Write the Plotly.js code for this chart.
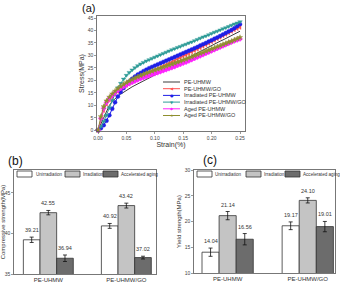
<!DOCTYPE html>
<html><head><meta charset="utf-8">
<script src="https://cdn.plot.ly/plotly-3.0.1.min.js"></script>
<style>html,body{margin:0;padding:0;background:#fff}#chart{width:340px;height:282px}</style>
</head><body><div id="chart"></div>
<script>
// ---- (a) stress-strain data ----
const strain = [0,0.005,0.01,0.015,0.02,0.025,0.03,0.035,0.04,0.045,0.05,0.055,0.06,0.065,0.07,0.075,0.08,0.085,0.09,0.095,0.10,0.105,0.11,0.115,0.12,0.125,0.13,0.135,0.14,0.145,0.15,0.155,0.16,0.165,0.17,0.175,0.18,0.185,0.19,0.195,0.20,0.205,0.21,0.215,0.22,0.225,0.23,0.235,0.24,0.245,0.25];
const stressPE = [0,2.5,5.5,8,10,11.5,12.7,13.7,14.5,15.3,16,16.7,17.4,18,18.6,19.2,19.8,20.4,21,21.5,22.1,22.7,23.2,23.8,24.4,25,25.6,26.2,26.8,27.4,28,28.6,29.2,29.8,30.4,31,31.6,32.2,32.7,33.3,33.9,34.5,35.1,35.7,36.2,36.8,37.4,38,38.5,39.1,39.7];
const stressPEGO = [0,4.5,8,10.5,12.2,13.5,14.6,15.6,16.5,17.3,18.1,18.8,19.5,20.1,20.7,21.3,21.9,22.4,23,23.5,24,24.6,25.1,25.7,26.2,26.8,27.3,27.9,28.5,29.1,29.7,30.2,30.8,31.4,32,32.5,33.1,33.7,34.3,34.9,35.5,36.1,36.7,37.3,37.9,38.5,39.1,39.7,40.3,40.8,41.3];
const stressIrrPE = [0,0.8,2,3.8,6,8.6,11.2,13.5,15.3,16.9,18.3,19.5,20.6,21.5,22.3,23,23.7,24.3,24.9,25.4,25.9,26.4,26.9,27.4,27.9,28.4,28.9,29.4,29.9,30.4,30.9,31.4,31.9,32.4,32.9,33.4,34,34.5,35,35.6,36.1,36.7,37.2,37.8,38.4,39,39.6,40.2,40.9,41.7,42.5];
const stressIrrPEGO = [0,1.5,3.5,6,9,12,14.8,17,18.8,20.5,22,23.2,24.2,25.1,25.9,26.6,27.2,27.8,28.3,28.8,29.3,29.8,30.3,30.8,31.3,31.8,32.3,32.7,33.2,33.6,34.1,34.5,35,35.4,35.9,36.4,36.9,37.4,37.8,38.3,38.8,39.3,39.7,40.2,40.7,41.1,41.6,42.1,42.6,43.0,43.5];
const stressAgedPE = [0,4.8,8.8,11.2,12.8,14,15.1,16,16.8,17.5,18.1,18.7,19.2,19.7,20.2,20.7,21.1,21.5,21.9,22.3,22.7,23.1,23.5,23.9,24.3,24.7,25.1,25.5,26,26.4,26.9,27.3,27.8,28.3,28.8,29.3,29.8,30.3,30.8,31.3,31.8,32.3,32.8,33.3,33.8,34.3,34.8,35.3,35.8,36.2,36.6];
const stressAgedPEGO = [0,5.5,9.5,11.8,13.3,14.6,15.7,16.7,17.6,18.4,19.1,19.7,20.3,20.9,21.4,21.9,22.4,22.9,23.3,23.7,24.1,24.5,24.9,25.3,25.7,26.1,26.5,26.9,27.3,27.7,28.1,28.5,29,29.4,29.9,30.3,30.8,31.2,31.7,32.1,32.6,33,33.5,33.9,34.4,34.8,35.3,35.7,36.2,36.7,37.2];
const curveNames = ['PE-UHMW','PE-UHMW/GO','Irradiated PE-UHMW','Irradiated PE-UHMW/GO','Aged PE-UHMW','Aged PE-UHMW/GO'];

// ---- (b),(c) bar data ----
const materials = ['PE-UHMW','PE-UHMW/GO'];
const barNames = ['Unirradiation','Irradiation','Accelerated aging'];
const compUnirr = [39.21, 40.92];
const compIrr = [42.55, 43.42];
const compAged = [36.94, 37.02];
const compUnirrErr = [0.33, 0.3];
const compIrrErr = [0.27, 0.3];
const compAgedErr = [0.4, 0.17];
const yieldUnirr = [14.04, 19.17];
const yieldIrr = [21.14, 24.10];
const yieldAged = [16.56, 19.01];
const yieldUnirrErr = [0.8, 0.75];
const yieldIrrErr = [0.8, 0.5];
const yieldAgedErr = [1.1, 1.0];

// ---- styling ----
const FONT = 'Liberation Sans, Arial, sans-serif';
const curveStyles = [
  {color:'#3c3c3c', mode:'lines', symbol:null, glyph:''},
  {color:'#ff5050', mode:'lines+markers', symbol:'triangle-left', glyph:'◀'},
  {color:'#1f1fe6', mode:'lines+markers', symbol:'circle', glyph:'●'},
  {color:'#2f9c98', mode:'lines+markers', symbol:'triangle-down', glyph:'▼'},
  {color:'#ff22ff', mode:'lines+markers', symbol:'diamond', glyph:'◆'},
  {color:'#8f8f2e', mode:'lines+markers', symbol:'star', glyph:'★'}
];
const barColors = ['#ffffff','#c4c4c4','#6c6c6c'];
const W = 340, H = 282;
const px = v => v / W, py = v => 1 - v / H;

const curves = [stressPE, stressPEGO, stressIrrPE, stressIrrPEGO, stressAgedPE, stressAgedPEGO];
const traces = [];
curves.forEach((ys, i) => {
  const st = curveStyles[i];
  const tr = {
    type:'scatter', x:strain, y:ys, name:curveNames[i], mode:st.mode,
    xaxis:'x', yaxis:'y', showlegend:false, cliponaxis:false,
    line:{color:st.color, width:1}
  };
  if (st.symbol) tr.marker = {symbol:st.symbol, size:4, color:st.color, line:{width:0.4, color:st.color}};
  traces.push(tr);
});

const bargap = 0.36;
function addBars(vals, errs, xa, ya) {
  vals.forEach((v, j) => {
    traces.push({
      type:'bar', x:materials, y:v, name:barNames[j], xaxis:xa, yaxis:ya, showlegend:false,
      marker:{color:barColors[j], line:{color:'#333', width:0.8}},
      error_y:{type:'data', array:errs[j], visible:true, color:'#111', thickness:0.8, width:2}
    });
  });
}
addBars([compUnirr, compIrr, compAged], [compUnirrErr, compIrrErr, compAgedErr], 'x2', 'y2');
addBars([yieldUnirr, yieldIrr, yieldAged], [yieldUnirrErr, yieldIrrErr, yieldAgedErr], 'x3', 'y3');

const annotations = [];
const shapes = [];
function valueLabels(vals, errs, xr, yr) {
  const w = (1 - bargap) / 3;
  vals.forEach((arr, j) => arr.forEach((v, i) => {
    annotations.push({xref:xr, yref:yr, x:i + (j - 1) * w, y:v + errs[j][i], text:v.toFixed(2),
      showarrow:false, yanchor:'bottom', yshift:2, font:{family:FONT, size:5.5, color:'#333'}});
  }));
}
valueLabels([compUnirr, compIrr, compAged], [compUnirrErr, compIrrErr, compAgedErr], 'x2', 'y2');
valueLabels([yieldUnirr, yieldIrr, yieldAged], [yieldUnirrErr, yieldIrrErr, yieldAgedErr], 'x3', 'y3');

// panel letters
[['(a)', 88, 8, 11], ['(b)', 15, 161, 12], ['(c)', 210, 160, 12]].forEach(([t, x, y, s]) => {
  annotations.push({xref:'paper', yref:'paper', x:px(x), y:py(y), text:t, showarrow:false,
    xanchor:'center', yanchor:'middle', font:{family:FONT, size:s, color:'#111'}});
});

// (a) legend
const legRows = [82, 88.7, 95.4, 102.1, 108.8, 115.5];
curveNames.forEach((n, i) => {
  const y = legRows[i];
  shapes.push({type:'line', xref:'paper', yref:'paper', x0:px(163), x1:px(180), y0:py(y), y1:py(y),
    line:{color:curveStyles[i].color, width:1}});
  if (curveStyles[i].glyph) annotations.push({xref:'paper', yref:'paper', x:px(171.5), y:py(y),
    text:curveStyles[i].glyph, showarrow:false, xanchor:'center', yanchor:'middle',
    font:{family:'DejaVu Sans', size:4, color:curveStyles[i].color}});
  annotations.push({xref:'paper', yref:'paper', x:px(182), y:py(y), text:n, showarrow:false,
    xanchor:'left', yanchor:'middle', font:{family:FONT, size:5.5, color:'#333'}});
});

// bar legends
function barLegend(sw, tx, y) {
  barNames.forEach((n, j) => {
    shapes.push({type:'rect', xref:'paper', yref:'paper', x0:px(sw[j]), x1:px(sw[j] + 15), y0:py(y + 3), y1:py(y - 3),
      fillcolor:barColors[j], line:{color:'#333', width:0.8}});
    annotations.push({xref:'paper', yref:'paper', x:px(tx[j]), y:py(y), text:n, showarrow:false,
      xanchor:'left', yanchor:'middle', font:{family:FONT, size:4.6, color:'#333'}});
  });
}
barLegend([17, 65, 103], [34, 81, 119], 174);
barLegend([197, 246, 285], [213, 262, 301], 174);

const tickFont = {family:FONT, size:5, color:'#444'};
const titleFont = {family:FONT, size:6, color:'#333'};
const common = {showgrid:false, zeroline:false, showline:true, linecolor:'#555', linewidth:0.8, mirror:true,
  ticks:'outside', ticklen:2, tickwidth:0.6, tickcolor:'#555', tickfont:tickFont};

const layout = {
  width:W, height:H, margin:{l:0, r:0, t:0, b:0}, paper_bgcolor:'#fff', plot_bgcolor:'#fff',
  showlegend:false, barmode:'group', bargap:bargap, bargroupgap:0,
  font:{family:FONT},
  xaxis:Object.assign({}, common, {domain:[px(97), px(245)], anchor:'y', range:[-0.0018, 0.2588],
    tickvals:[0,0.05,0.1,0.15,0.2,0.25], tickformat:'.2f',
    title:{text:'Strain(%)', font:{family:FONT, size:7, color:'#333'}, standoff:2}}),
  yaxis:Object.assign({}, common, {domain:[py(131), py(16)], anchor:'x', range:[-0.3, 45.8],
    tickvals:[0,5,10,15,20,25,30,35,40,45],
    title:{text:'Stress(MPa)', font:{family:FONT, size:7, color:'#333'}, standoff:2}}),
  xaxis2:Object.assign({}, common, {domain:[px(14), px(156)], anchor:'y2', type:'category', range:[-0.44, 1.38],
    ticks:'', tickfont:{family:FONT, size:6, color:'#333'}}),
  yaxis2:Object.assign({}, common, {domain:[py(274), py(170)], anchor:'x2', range:[35, 47.8],
    tickvals:[35,40,45], title:{text:'Compressive strength(MPa)', font:titleFont, standoff:2}}),
  xaxis3:Object.assign({}, common, {domain:[px(194), px(335)], anchor:'y3', type:'category', range:[-0.42, 1.34],
    ticks:'', tickfont:{family:FONT, size:6, color:'#333'}}),
  yaxis3:Object.assign({}, common, {domain:[py(273), py(170)], anchor:'x3', range:[10, 30],
    tickvals:[10,15,20,25,30], title:{text:'Yield strength(MPa)', font:titleFont, standoff:2}}),
  annotations:annotations, shapes:shapes
};

Plotly.newPlot('chart', traces, layout, {staticPlot:true, displayModeBar:false});
</script></body></html>
